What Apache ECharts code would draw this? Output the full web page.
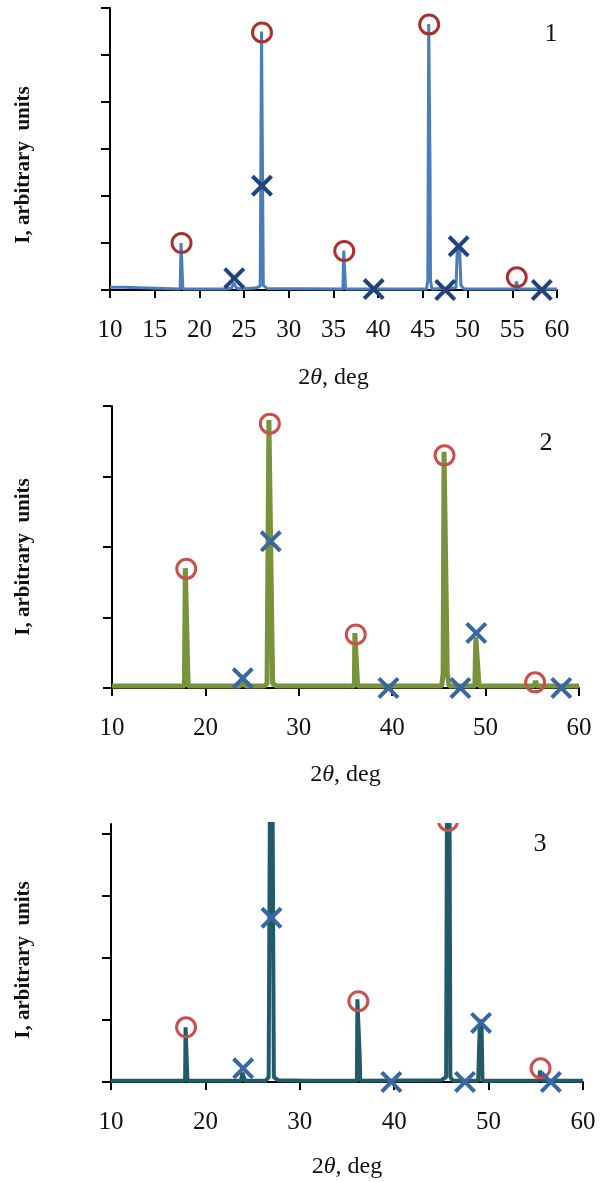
<!DOCTYPE html>
<html>
<head>
<meta charset="utf-8">
<script src="https://cdn.jsdelivr.net/npm/echarts@6/dist/echarts.min.js"></script>
<style>
  html,body{margin:0;padding:0;background:#fff;}
  #myChart{width:606px;height:1182px;}
</style>
</head>
<body>
<div id="myChart"></div>
<script>
// 2θ (deg), intensity (arbitrary units)
var trace1 = [[10,0.06],[11.5,0.06],[11.7,0.02],[17.85,0.02],[17.95,1.0],[18.05,1.0],[18.15,0.02],
  [23.0,0.02],[23.6,0.04],[23.85,0.15],[24.0,0.16],[24.15,0.04],[24.5,0.02],
  [26.3,0.04],[26.8,0.08],[26.95,5.5],[27.05,5.5],[27.15,0.1],[27.6,0.03],
  [36.05,0.02],[36.15,0.84],[36.25,0.84],[36.35,0.02],
  [45.4,0.02],[45.55,0.2],[45.65,5.66],[45.72,5.66],[45.8,2.6],[45.85,0.2],[46.0,0.02],
  [48.7,0.05],[48.85,0.9],[49.1,0.92],[49.25,0.1],[49.6,0.02],
  [55.35,0.02],[55.45,0.18],[55.6,0.18],[55.7,0.02],[60,0.02]];
var circles1 = [[18.0,1.0],[27.0,5.48],[36.2,0.83],[45.7,5.65],[55.5,0.27]];
var crosses1 = [[23.9,0.25],[27.0,2.22],[39.5,0.02],[47.5,0.0],[49.0,0.93],[58.3,0.0]];

var trace2 = [[10,0.03],[17.75,0.03],[17.85,1.7],[18.05,1.7],[18.15,0.03],
  [23.7,0.03],[24.0,0.08],[24.3,0.03],
  [26.3,0.03],[26.6,0.06],[26.8,3.8],[27.0,3.8],[27.2,0.06],[27.6,0.03],
  [35.95,0.03],[36.0,0.78],[36.2,0.78],[36.3,0.03],
  [45.3,0.03],[45.45,0.2],[45.55,3.35],[45.75,3.35],[45.9,0.2],[46.1,0.03],
  [48.85,0.03],[48.95,0.72],[49.15,0.7],[49.3,0.03],
  [55.2,0.03],[55.35,0.1],[55.5,0.03],[60,0.03]];
var circles2 = [[17.95,1.69],[26.9,3.75],[36.1,0.76],[45.6,3.3],[55.3,0.08]];
var crosses2 = [[24.0,0.14],[27.0,2.08],[39.6,0.0],[47.3,0.0],[49.0,0.78],[58.1,0.0]];

var trace3 = [[10,0.02],[17.85,0.02],[17.9,0.88],[18.05,0.88],[18.1,0.02],
  [23.8,0.02],[23.9,0.15],[24.1,0.15],[24.2,0.02],
  [26.4,0.02],[26.7,0.08],[26.85,5],[27.1,5],[27.25,0.08],[27.7,0.03],
  [31.0,0.02],[31.1,0.04],[31.2,0.02],[34.0,0.02],[34.1,0.04],[34.2,0.02],
  [36.05,0.02],[36.1,1.33],[36.25,1.33],[36.35,0.4],[36.4,0.02],
  [45.0,0.03],[45.5,0.08],[45.6,5],[45.85,5],[45.95,0.08],[46.2,0.02],
  [48.9,0.02],[49.0,0.6],[49.1,1.0],[49.25,0.95],[49.35,0.02],
  [52.0,0.02],[52.1,0.04],[52.2,0.02],
  [55.35,0.02],[55.45,0.18],[55.6,0.18],[55.7,0.02],[60,0.02]];
var circles3 = [[17.95,0.88],[36.2,1.3],[45.7,4.2],[55.5,0.22]];
var crosses3 = [[24.0,0.22],[27.0,2.64],[39.7,0.0],[47.5,0.0],[49.2,0.95],[56.6,0.0]];

var yTicks3 = [0,1,2,3,4];
var panelNames = ['1','2','3'];

var crossPath = 'path://M2.6,0L10,7.4L17.4,0L20,2.6L12.6,10L20,17.4L17.4,20L10,12.6L2.6,20L0,17.4L7.4,10L0,2.6Z';
var serif = '"Liberation Serif","DejaVu Serif",serif';

function xAxisOf(gridIndex, interval, nameGap){
  return {
    gridIndex: gridIndex, type: 'value', min: 10, max: 60, interval: interval,
    name: '2{i|θ}, deg', nameLocation: 'middle', nameGap: nameGap,
    nameTextStyle: {fontFamily: serif, fontSize: 24, color: '#111',
      rich: {i: {fontFamily: serif, fontSize: 24, fontStyle: 'italic', color: '#111'}}},
    axisLine: {lineStyle: {color: '#000', width: 2}},
    axisTick: {show: true, inside: false, length: 8, lineStyle: {color: '#000', width: 2}},
    axisLabel: {fontFamily: serif, fontSize: 25, color: '#111', margin: 28},
    splitLine: {show: false}
  };
}
function yAxisOf(gridIndex, max){
  return {
    gridIndex: gridIndex, type: 'value', min: 0, max: max, interval: 1,
    axisLine: {show: true, lineStyle: {color: '#000', width: 2}},
    axisTick: {show: true, inside: false, length: 9, lineStyle: {color: '#000', width: 2}},
    axisLabel: {show: false},
    splitLine: {show: false}
  };
}

var myChart = echarts.init(document.getElementById('myChart'));
var y3 = yAxisOf(2, 4.15);
y3.axisTick.customValues = yTicks3;

myChart.setOption({
  animation: false,
  backgroundColor: '#fff',
  grid: [
    {left: 110, right: 49, top: 8, bottom: 892, outerBoundsMode: 'none'},
    {left: 112, right: 27, top: 406, bottom: 494, outerBoundsMode: 'none'},
    {left: 111, right: 23, top: 824, bottom: 100, outerBoundsMode: 'none'}
  ],
  xAxis: [xAxisOf(0, 5, 76), xAxisOf(1, 10, 75), xAxisOf(2, 10, 73)],
  yAxis: [yAxisOf(0, 6), yAxisOf(1, 4), y3],
  series: [
    {type: 'line', xAxisIndex: 0, yAxisIndex: 0, data: trace1, symbol: 'none', z: 2,
      lineStyle: {color: '#4a7ebb', width: 3}},
    {type: 'scatter', xAxisIndex: 0, yAxisIndex: 0, data: circles1, symbol: 'circle', symbolSize: 19, z: 3,
      itemStyle: {color: 'transparent', borderColor: '#a9322f', borderWidth: 3, opacity: 1}},
    {type: 'scatter', xAxisIndex: 0, yAxisIndex: 0, data: crosses1, symbol: crossPath, symbolSize: 22, z: 3,
      itemStyle: {color: '#1f437a', opacity: 1}},

    {type: 'line', xAxisIndex: 1, yAxisIndex: 1, data: trace2, symbol: 'none', z: 2,
      lineStyle: {color: '#77933c', width: 5}},
    {type: 'scatter', xAxisIndex: 1, yAxisIndex: 1, data: circles2, symbol: 'circle', symbolSize: 19, z: 3,
      itemStyle: {color: 'transparent', borderColor: '#c9504c', borderWidth: 3, opacity: 1}},
    {type: 'scatter', xAxisIndex: 1, yAxisIndex: 1, data: crosses2, symbol: crossPath, symbolSize: 22, z: 3,
      itemStyle: {color: '#3867a3', opacity: 1}},

    {type: 'line', xAxisIndex: 2, yAxisIndex: 2, data: trace3, symbol: 'none', z: 2,
      lineStyle: {color: '#215a69', width: 4}},
    {type: 'scatter', xAxisIndex: 2, yAxisIndex: 2, data: circles3, symbol: 'circle', symbolSize: 19, z: 3, clip: false,
      itemStyle: {color: 'transparent', borderColor: '#c9504c', borderWidth: 3, opacity: 1}},
    {type: 'scatter', xAxisIndex: 2, yAxisIndex: 2, data: crosses3, symbol: crossPath, symbolSize: 22, z: 3,
      itemStyle: {color: '#3867a3', opacity: 1}}
  ],
  graphic: [
    // mask above panel 3 plot area (the top circle is cut there)
    {type: 'rect', left: 380, top: 796, shape: {width: 150, height: 27}, style: {fill: '#fff'}, z: 100},
    {type: 'text', x: 24, y: 165, rotation: Math.PI/2,
      style: {text: 'I, arbitrary  units', font: 'bold 21px ' + serif, fill: '#111', align: 'center', verticalAlign: 'middle'}},
    {type: 'text', x: 24, y: 557, rotation: Math.PI/2,
      style: {text: 'I, arbitrary  units', font: 'bold 21px ' + serif, fill: '#111', align: 'center', verticalAlign: 'middle'}},
    {type: 'text', x: 24, y: 960, rotation: Math.PI/2,
      style: {text: 'I, arbitrary  units', font: 'bold 21px ' + serif, fill: '#111', align: 'center', verticalAlign: 'middle'}},
    {type: 'text', x: 551, y: 34, style: {text: panelNames[0], font: '26px ' + serif, fill: '#111', align: 'center', verticalAlign: 'middle'}},
    {type: 'text', x: 546, y: 443, style: {text: panelNames[1], font: '26px ' + serif, fill: '#111', align: 'center', verticalAlign: 'middle'}},
    {type: 'text', x: 540, y: 844, style: {text: panelNames[2], font: '26px ' + serif, fill: '#111', align: 'center', verticalAlign: 'middle'}}
  ]
});
</script>
</body>
</html>
